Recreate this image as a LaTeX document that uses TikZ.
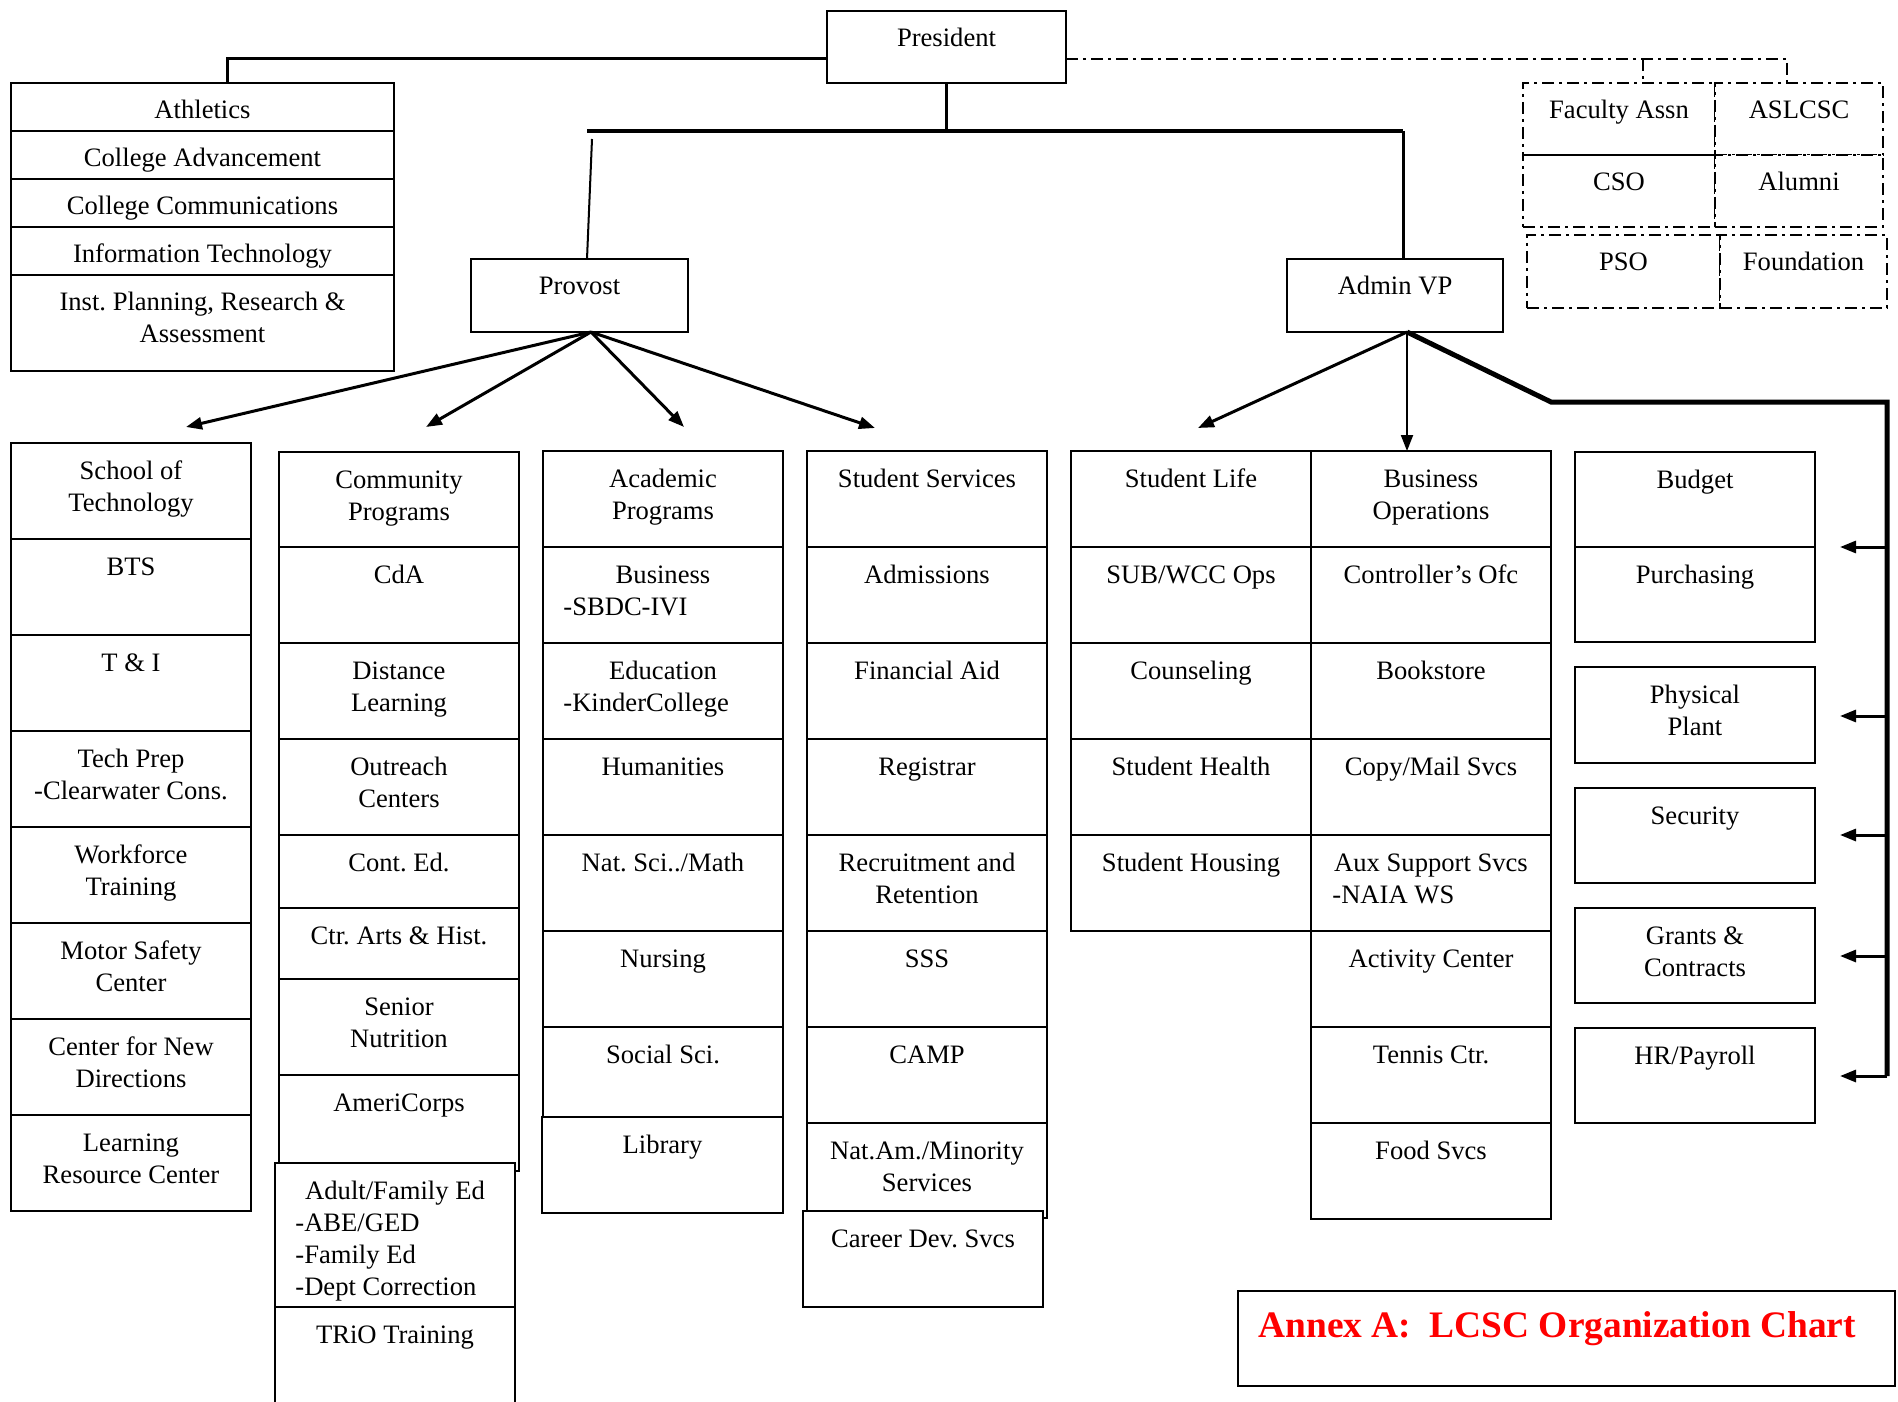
\documentclass[tikz,border=0pt]{standalone}
\usepackage{fontspec}
\setmainfont{Liberation Serif}
\usetikzlibrary{calc,arrows.meta}
\frenchspacing
\newcommand*{\cellfont}{\fontsize{13.3}{16}\selectfont}
\newcommand*{\CellLines}[2]{\begin{tabular}[t]{@{}#1@{}}#2\end{tabular}}
\tikzset{
cell/.style={draw, fill=white, line width=1pt, rectangle, inner sep=0pt, outer sep=0pt},
dashcell/.style={cell, dash pattern=on 6pt off 2.5pt on 1.5pt off 2.5pt},
celltext/.style={anchor=base, inner sep=0pt, font=\cellfont},
subtext/.style={anchor=base west, inner sep=0pt, font=\cellfont},
link/.style={line width=1.5pt},
bar/.style={line width=2pt},
feeder/.style={line width=1.5pt, -{Triangle[length=8pt,width=6pt]}},
dashlink/.style={line width=1pt, dash pattern=on 6pt off 2.5pt on 1.5pt off 2.5pt}
}
\newcommand*{\CellColumn}[4]{% #1 = style, #2 = left x, #3 = width, #4 = list of name/top/bottom/text
\foreach \nm/\ya/\yb/\lbl in {#4} {
\node [#1, minimum width=#3*0.5pt, minimum height=(\yb-\ya)*0.5pt]
(\nm) at ({#2+#3/2},{(\ya+\yb)/2}) {};
\node [celltext] (\nm-t) at ($(\nm.north)+(0,36)$) {\CellLines{c}{\lbl}};
}%
}

\begin{document}
\begin{tikzpicture}[x=0.5pt, y=-0.5pt]

            \useasboundingbox (0,0) rectangle (1898,1401);
            \clip (0,0) rectangle (1898,1401);

            % offices under the president
            \CellColumn{cell}{11}{383}{athl/83/131/Athletics,
                adv/131/179/College Advancement,
                comms/179/227/College Communications,
                it/227/275/Information Technology,
                ipra/275/371/{Inst. Planning, Research \&\\Assessment}}

            \CellColumn{cell}{827}{239}{pres/11/83/President}
            \CellColumn{cell}{471}{217}{prov/259/332/Provost}
            \CellColumn{cell}{1287}{216}{avp/259/332/Admin VP}

            % advisory groups
            \CellColumn{dashcell}{1523}{192}{fac/83/155/Faculty Assn, cso/155/227/CSO}
            \CellColumn{dashcell}{1715}{168}{aslcsc/83/155/ASLCSC, alum/155/227/Alumni}
            \CellColumn{dashcell}{1527}{193}{pso/235/308/PSO}
            \CellColumn{dashcell}{1720}{167}{fdn/235/308/Foundation}
            \draw[line width=1pt] (fac.south west) -- (fac.south east);

            % provost side
            \CellColumn{cell}{11}{240}{sot/443/539/{School of\\Technology},
                bts/539/635/BTS,
                ti/635/731/T \& I,
                prep/731/827/{Tech Prep\\-Clearwater Cons.},
                wft/827/923/{Workforce\\Training},
                msc/923/1019/{Motor Safety\\Center},
                cnd/1019/1115/{Center for New\\Directions},
                lrc/1115/1211/{Learning\\Resource Center}}
            \CellColumn{cell}{279}{240}{cp/452/547/{Community\\Programs},
                cda/547/643/CdA,
                dl/643/739/{Distance\\Learning},
                oc/739/835/{Outreach\\Centers},
                ce/835/908/Cont. Ed.,
                cah/908/979/Ctr. Arts \& Hist.,
                sn/979/1075/{Senior\\Nutrition},
                amc/1075/1171/AmeriCorps}
            \CellColumn{cell}{275}{240}{afe/1163/1307/{Adult/Family Ed},
                trio/1307/1460/TRiO Training}
            \CellColumn{cell}{543}{240}{ap/451/547/{Academic\\Programs},
                bus/547/643/Business,
                edu/643/739/Education,
                hum/739/835/Humanities,
                nsm/835/931/{Nat. Sci../Math},
                nur/931/1027/Nursing,
                socs/1027/1117/Social Sci.}
            \CellColumn{cell}{542}{241}{lib/1117/1213/Library}
            \CellColumn{cell}{807}{240}{ssv/451/547/Student Services,
                adm/547/643/Admissions,
                fa/643/739/Financial Aid,
                reg/739/835/Registrar,
                rr/835/931/{Recruitment and\\Retention},
                sss/931/1027/SSS,
                camp/1027/1123/CAMP,
                nam/1123/1218/{Nat.Am./Minority\\Services}}
            \CellColumn{cell}{803}{240}{cds/1211/1307/Career Dev. Svcs}

            % admin side
            \CellColumn{cell}{1071}{240}{sl/451/547/Student Life,
                sub/547/643/{SUB/WCC Ops},
                cou/643/739/Counseling,
                sh/739/835/Student Health,
                shs/835/931/Student Housing}
            \CellColumn{cell}{1311}{240}{bo/451/547/{Business\\Operations},
                ctl/547/643/Controller's Ofc,
                book/643/739/Bookstore,
                copy/739/835/{Copy/Mail Svcs},
                aux/835/931/Aux Support Svcs,
                act/931/1027/Activity Center,
                ten/1027/1123/Tennis Ctr.,
                food/1123/1219/Food Svcs}
            \CellColumn{cell}{1575}{240}{bud/452/547/Budget,
                pur/547/642/Purchasing,
                pp/667/763/{Physical\\Plant},
                sec/788/883/Security,
                gc/908/1003/{Grants \&\\Contracts},
                hr/1028/1123/{HR/Payroll}}

            \node[subtext] (bus-s) at ($(bus.north west)+(20,68)$) {-SBDC-IVI};
            \node[subtext] (edu-s) at ($(edu.north west)+(20,68)$) {-KinderCollege};
            \node[subtext] (aux-s) at ($(aux.north west)+(21,68)$) {-NAIA WS};
            \node[subtext] (afe-s) at ($(afe.north west)+(20,68)$) {\CellLines{l}{-ABE/GED\\-Family Ed\\-Dept Correction}};

            % president links
            \coordinate (presL) at (827,59);
            \coordinate (athlTop) at (227,83);
            \draw[link] (presL) -| (athlTop);
            \coordinate (hub) at (947,131);
            \coordinate (barL) at (587,131);
            \coordinate (barR) at (1403,131);
            \coordinate (avpTop) at (1403,259);
            \draw[link] (pres.south) -- (pres.south |- hub);
            \draw[bar] (barL) -- (barR);
            \draw[link] (barR) -- (avpTop);
            \coordinate (provBar) at (592,139);
            \coordinate (provTop) at (587,259);
            \draw[line width=1pt] (provBar) -- (provTop);

            \coordinate (presR) at (1066,59);
            \coordinate (advTop) at (1787,83);
            \coordinate (advTick) at (1643,59);
            \draw[dashlink] (presR) -| (advTop);
            \draw[dashlink] (advTick) -- (advTick |- advTop);

            % provost arrows
            \coordinate (provFoot) at (591,332);
            \foreach \nm/\x/\y in {toSot/186/427, toCp/426/427, toAp/684/427, toSsv/875/428} {
                \coordinate (\nm) at (\x,\y);
                \draw[feeder] (provFoot) -- (\nm);
            }

            % admin vp arrows
            \coordinate (avpFoot) at (1407,332);
            \coordinate (toSl) at (1198,428);
            \coordinate (toBo) at (1407,451);
            \draw[feeder] (avpFoot) -- (toSl);
            \draw[feeder, line width=1pt] (avpFoot) -- (toBo);
            \coordinate (busBend) at (1551,402);
            \coordinate (busTop) at (1887,402);
            \coordinate (busEnd) at (1887,1076);
            \draw[line width=2.5pt] (avpFoot) -- (busBend) -- (busTop) -- (busEnd);
            \foreach \nm/\y in {toBud/547, toPp/716, toSec/835, toGc/956, toHr/1076} {
                \coordinate (\nm) at (1840,\y);
                \draw[feeder] (busTop |- \nm) -- (\nm);
            }

            \node[cell, minimum width=657*0.5pt, minimum height=95*0.5pt, anchor=north west] (annex) at (1238,1291) {};
            \node[anchor=base west, inner sep=0pt, text=red, font=\fontsize{18.7}{23}\selectfont\bfseries]
                (annex-t) at (1258,1337) {Annex A:\ \ LCSC Organization Chart};

        \end{tikzpicture}
\end{document}
